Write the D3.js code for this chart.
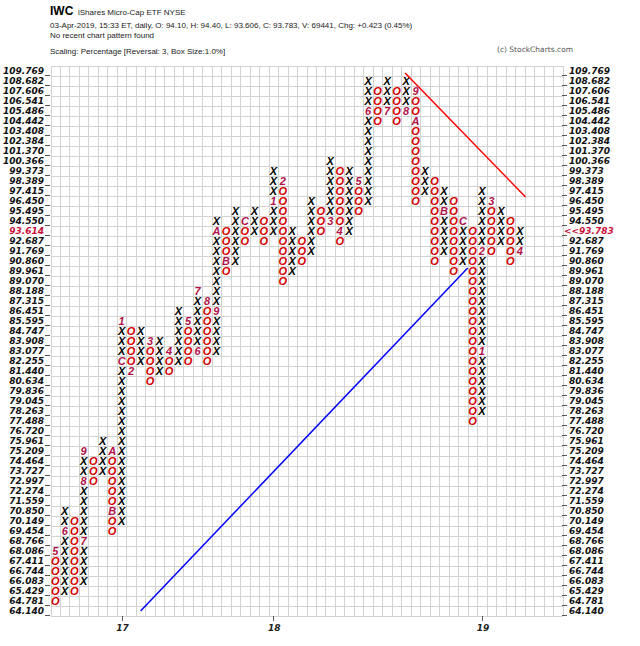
<!DOCTYPE html>
<html><head><meta charset="utf-8">
<script src="https://cdn.jsdelivr.net/npm/d3@7/dist/d3.min.js"></script>
<style>body{margin:0;background:#fff}svg{display:block}</style>
</head><body><svg id="c" width="640" height="646"></svg>
<script>
// price levels (1% boxes), bottom to top
const levelLabels = ["64.140","64.781","65.429","66.083","66.744","67.411","68.086","68.766","69.454","70.149",
 "70.850","71.559","72.274","72.997","73.727","74.464","75.209","75.961","76.720","77.488",
 "78.263","79.045","79.836","80.634","81.440","82.255","83.077","83.908","84.747","85.595",
 "86.451","87.315","88.188","89.070","89.961","90.860","91.769","92.687","93.614","94.550",
 "95.495","96.450","97.415","98.389","99.373","100.366","101.370","102.384","103.408","104.442",
 "105.486","106.541","107.606","108.682","109.769"];
// P&F columns: type, lowest box, highest box (level index)
const colTypes  = ["O","X","O","X","O","X","O","X","O","X","O","X","O","X","O","X","O","X","O","X",
                   "O","X","O","X","O","X","O","X","O","X","O","X","O","X","O","X","O","X","O","X",
                   "O","X","O","X","O","X","O","X","O","X"];
const colBottom = [1,2,2,3,13,14,8,9,24,25,23,24,24,25,25,26,25,26,34,35,
                   37,38,37,38,33,34,35,36,38,39,37,38,40,41,49,50,49,50,41,42,
                   35,36,34,35,19,20,36,37,35,36];
const colTop    = [6,10,9,16,15,17,16,29,28,28,27,27,26,30,29,32,31,39,38,40,
                   39,40,39,44,43,38,37,41,40,45,44,44,43,53,52,53,52,53,52,44,
                   43,42,41,39,38,42,41,40,39,38];
// month markers: [column, level, label]
const monthMarks = [[0,6,"5"],[1,8,"6"],[3,7,"7"],[3,13,"8"],[3,16,"9"],[6,16,"A"],[6,10,"B"],
  [7,25,"C"],[7,29,"1"],[8,24,"2"],[10,27,"3"],[12,26,"4"],[14,29,"5"],[15,26,"6"],[15,32,"7"],
  [16,31,"8"],[17,30,"9"],[17,38,"A"],[18,35,"B"],[20,39,"C"],[23,41,"1"],[24,43,"2"],[29,39,"3"],
  [30,38,"4"],[32,43,"5"],[33,50,"6"],[35,50,"7"],[37,50,"8"],[38,52,"9"],[38,49,"A"],[41,40,"B"],
  [43,39,"C"],[45,26,"1"],[45,36,"2"],[46,41,"3"],[49,36,"4"]];
const yearCols   = [7,23,45];
const yearLabels = ["17","18","19"];
const lastLevel = 38;
const lastClose = "93.783";
// trend lines in [column, level] units
const resistanceLine = [[36.9,53.8],[49.6,41.4]];
const supportLine    = [[9.0,0.0],[43.5,34.3]];
const nCols = 54;

const svg = d3.select("#c");
const x = d3.scaleLinear().domain([-0.5, nCols-0.5]).range([50.5, 562.5]);
const y = d3.scaleLinear().domain([-0.5, levelLabels.length-0.5]).range([616, 66]);

// header
const hd = svg.append("g").attr("font-family","Liberation Sans, Arial, sans-serif").attr("fill","#222");
hd.append("text").attr("x",50).attr("y",15).attr("font-size",12).attr("font-weight","bold").attr("fill","#000").text("IWC");
hd.append("text").attr("x",78).attr("y",15).attr("font-size",8).text("iShares Micro-Cap ETF  NYSE");
hd.append("text").attr("x",50).attr("y",28).attr("font-size",8).text("03-Apr-2019, 15:33 ET, daily, O: 94.10, H: 94.40, L: 93.606, C: 93.783, V: 69441, Chg: +0.423 (0.45%)");
hd.append("text").attr("x",50).attr("y",38).attr("font-size",8).text("No recent chart pattern found");
hd.append("text").attr("x",50).attr("y",54).attr("font-size",8).text("Scaling: Percentage [Reversal: 3, Box Size:1.0%]");
hd.append("text").attr("x",497).attr("y",52).attr("font-size",8).attr("fill","#555").attr("font-family","DejaVu Sans, sans-serif").attr("font-size",7.5).text("(c) StockCharts.com");

// grid
const grid = svg.append("g").attr("stroke","#d2d2d2").attr("stroke-width",1).attr("shape-rendering","crispEdges");
for (let c=0;c<=nCols;c++){
  grid.append("line").attr("x1",Math.round(x(c-0.5))+0.5).attr("x2",Math.round(x(c-0.5))+0.5).attr("y1",y(-0.5)).attr("y2",y(levelLabels.length-0.5));
}
for (let i=0;i<=levelLabels.length;i++){
  grid.append("line").attr("y1",Math.round(y(i-0.5))+0.5).attr("y2",Math.round(y(i-0.5))+0.5).attr("x1",x(-0.5)).attr("x2",x(nCols-0.5));
}
// axis ticks
const tk = svg.append("g").attr("stroke","#555").attr("shape-rendering","crispEdges");
levelLabels.forEach((l,i)=>{
  const yy = Math.round(y(i-0.5))-0.5;
  tk.append("line").attr("x1",45).attr("x2",50).attr("y1",yy).attr("y2",yy);
  tk.append("line").attr("x1",562).attr("x2",567).attr("y1",yy).attr("y2",yy);
});
yearCols.forEach(c=>{
  const xx = Math.round(x(c))+0.5;
  tk.append("line").attr("x1",xx).attr("x2",xx).attr("y1",616).attr("y2",621);
});

// level labels
const lab = svg.append("g").attr("font-family","DejaVu Sans, sans-serif").attr("font-size",9)
  .attr("font-style","italic").attr("font-weight","bold");
levelLabels.forEach((l,i)=>{
  lab.append("text").attr("x",44).attr("y",y(i)).attr("dy","0.38em").attr("text-anchor","end")
    .attr("fill", i===lastLevel ? "#c8103c" : "#111").text(l);
  lab.append("text").attr("x", i===lastLevel ? 564 : 569).attr("y",y(i)).attr("dy","0.38em")
    .attr("fill", i===lastLevel ? "#c8103c" : "#111").text(i===lastLevel ? "<<"+lastClose : l);
});
yearCols.forEach((c,k)=>{
  lab.append("text").attr("x",x(c)+1).attr("y",631).attr("text-anchor","middle").attr("fill","#222").text(yearLabels[k]);
});

// boxes
const markMap = new Map(monthMarks.map(m=>[m[0]+"_"+m[1], m[2]]));
const boxes = [];
colTypes.forEach((t,c)=>{
  for (let i=colBottom[c]; i<=colTop[c]; i++){
    const m = markMap.get(c+"_"+i);
    boxes.push({c, i, t, m});
  }
});
svg.append("g").attr("font-family","Liberation Sans, Arial, sans-serif").attr("font-size",11)
  .attr("font-style","italic").attr("font-weight","bold")
  .selectAll("text").data(boxes).join("text")
  .attr("x",d=>x(d.c)).attr("y",d=>y(d.i)).attr("dy","0.36em").attr("text-anchor","middle")
  .attr("fill",d=> d.m ? "#b0124a" : (d.t==="X" ? "#000" : "#d40000"))
  .text(d=> d.m ? d.m : d.t);

// trend lines
const line = d3.line().x(d=>x(d[0])).y(d=>y(d[1]));
svg.append("path").attr("d",line(resistanceLine)).attr("stroke","#ff0000").attr("stroke-width",1.5).attr("fill","none");
svg.append("path").attr("d",line(supportLine)).attr("stroke","#0000ff").attr("stroke-width",1.5).attr("fill","none");
</script></body></html>
